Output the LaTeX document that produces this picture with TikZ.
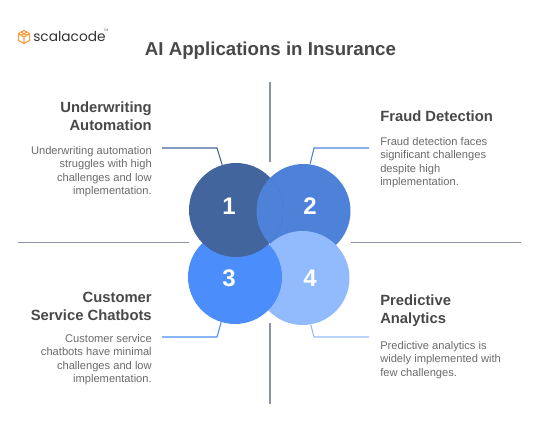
\documentclass[tikz,border=0pt]{standalone}
\usepackage{fontspec}
\setmainfont{Liberation Sans}
\newfontfamily\logofont{Poppins}
\usepackage{tikz}
\usetikzlibrary{calc}
\definecolor{circleone}{HTML}{41659C}
\definecolor{circletwo}{HTML}{4E82D9}
\definecolor{circlethree}{HTML}{4A8DFB}
\definecolor{circlefour}{HTML}{92BBFE}
\definecolor{axisgrey}{HTML}{8A92A3}
\definecolor{headgrey}{HTML}{484848}
\definecolor{bodygrey}{HTML}{6A6A6A}
\definecolor{logoorange}{HTML}{F5A04A}
\tikzset{
  numeral/.style={text=white, inner sep=0pt, font=\fontsize{18}{18}\selectfont\bfseries},
  blob/.style={circle, minimum size=70.5pt, inner sep=0pt},
  axisline/.style={axisgrey, line width=1pt},
  leader/.style={line width=0.8pt},
  head/.style={text=headgrey, font=\fontsize{11.1}{13.5}\selectfont\bfseries, inner sep=0pt},
  body/.style={text=bodygrey, font=\fontsize{8.35}{10.1}\selectfont, inner sep=0pt}
}
\begin{document}
\begin{tikzpicture}[x=0.75pt, y=-0.75pt]
  \useasboundingbox (0,0) rectangle (540,432);

  % logo
  \node[anchor=west, font=\logofont\fontsize{10.3}{10.3}\selectfont, text=black!80, inner sep=0pt] (logo) at (33,36.5) {scalacode};
  \node[font=\fontsize{2.5}{2.5}\selectfont, text=black!60, inner sep=0pt] (logotm) at (106,30) {TM};
  \draw[logoorange, line width=0.9pt]
    (24,30.5) -- (29.6,33.7) -- (29.6,40.3) -- (24,43.5) -- (18.4,40.3) -- (18.4,33.7) -- cycle
    (18.4,33.7) -- (24,37) -- (29.6,33.7) (24,37) -- (24,43.5)
    (21.2,35.3) -- (26.8,32.1) (26.8,35.3) -- (21.2,32.1);

  % title
  \node[text=headgrey, font=\fontsize{14}{14}\selectfont\bfseries, inner sep=0pt] (title) at (270.5,50.5) {AI Applications in Insurance};

  % axes
  \coordinate (axisN) at (270,82);
  \coordinate (axisNe) at (270,162);
  \coordinate (axisS) at (270,404);
  \coordinate (axisSe) at (270,323);
  \coordinate (axisW) at (18,242.5);
  \coordinate (axisWe) at (189,242.5);
  \coordinate (axisE) at (521,242.5);
  \coordinate (axisEe) at (351,242.5);
  \foreach \p/\q in {axisN/axisNe, axisS/axisSe, axisW/axisWe, axisE/axisEe}{
    \draw[axisline] (\p) -- (\q);
  }

  % circles, each one over the next
  \node[blob, fill=circletwo] (two) at (303.5,211) {};
  \node[blob, fill=circlefour] (four) at (302.5,278) {};
  \node[blob, fill=circlethree] (three) at (235,277) {};
  \node[blob, fill=circleone] (one) at (236,210) {};
  \begin{scope}
    \clip (one.center) circle (47);
    \fill[circletwo] (two.center) circle (47);
  \end{scope}

  % numerals
  \foreach \n/\x/\y in {1/229/206, 2/310/206, 3/229/278, 4/310/278}{
    \node[numeral] (num\n) at (\x,\y) {\n};
  }

  % leaders
  \coordinate (bendA) at (217,148);
  \coordinate (freeA) at (162,148);
  \coordinate (bendB) at (314,148);
  \coordinate (freeB) at (369,148);
  \coordinate (bendC) at (217,337);
  \coordinate (freeC) at (162,337);
  \coordinate (bendD) at (314,337);
  \coordinate (freeD) at (369,337);
  \draw[leader, circleone] (freeA) -- (bendA) -- (one.107);
  \draw[leader, circletwo] (freeB) -- (bendB) -- (two.82);
  \draw[leader, circlethree] (freeC) -- (bendC) -- (three.-107);
  \draw[leader, circlefour] (freeD) -- (bendD) -- (four.-80);

  % texts
  \node[head, align=right, anchor=north east] (headA) at (152,101.5) {Underwriting\\Automation};
  \node[body, align=right, anchor=north east] (bodyA) at (152,146) {Underwriting automation\\struggles with high\\challenges and low\\implementation.};
  \node[head, align=left, anchor=north west] (headB) at (380,111) {Fraud Detection};
  \node[body, align=left, anchor=north west] (bodyB) at (380,137) {Fraud detection faces\\significant challenges\\despite high\\implementation.};
  \node[head, align=right, anchor=north east] (headC) at (152,291.5) {Customer\\Service Chatbots};
  \node[body, align=right, anchor=north east] (bodyC) at (152,334) {Customer service\\chatbots have minimal\\challenges and low\\implementation.};
  \node[head, align=left, anchor=north west] (headD) at (380,295) {Predictive\\Analytics};
  \node[body, align=left, anchor=north west] (bodyD) at (380,341) {Predictive analytics is\\widely implemented with\\few challenges.};
\end{tikzpicture}
\end{document}
